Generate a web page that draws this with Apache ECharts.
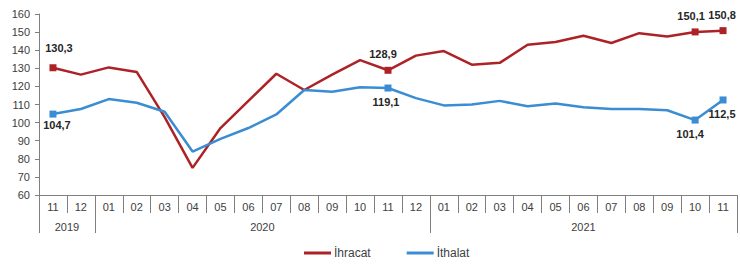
<!DOCTYPE html>
<html>
<head>
<meta charset="utf-8">
<script src="https://cdn.jsdelivr.net/npm/echarts@6/dist/echarts.min.js"></script>
<style>
  html, body { margin: 0; padding: 0; background: #fff; }
  #chart { width: 740px; height: 264px; }
</style>
</head>
<body>
<div id="chart"></div>
<script>
// months along the x axis, grouped by year
var months = ['11', '12',
  '01', '02', '03', '04', '05', '06', '07', '08', '09', '10', '11', '12',
  '01', '02', '03', '04', '05', '06', '07', '08', '09', '10', '11'];
var years = ['2019', '2020', '2021'];
var yearSpans = [2, 12, 11];

var exportsIdx = [130.3, 126.5,
  130.5, 128, 103, 75, 97, 112, 127, 118, 126.5, 134.5, 128.9, 137,
  139.5, 132, 133, 143, 144.5, 148, 144, 149.4, 147.6, 150.1, 150.8];
var importsIdx = [104.7, 107.5,
  113, 111, 106, 84, 91, 97, 104.5, 118, 117, 119.5, 119.1, 113.5,
  109.5, 110, 112, 109, 110.5, 108.5, 107.5, 107.5, 106.8, 101.4, 112.5];

// points that carry a marker and a value label
var marked = [0, 12, 23, 24];
// small nudges for the value labels (by point index)
var redNudge = { 0: [6, -4], 12: [-5, 0], 23: [-4, 0], 24: [-1, 0] };
var blueNudge = { 0: [4, -3], 12: [-2, 0], 23: [-5, 0], 24: [-1, 0] };

var red = '#ad2226';
var blue = '#3a8dd2';
var grey = '#7f7f7f';
var textCol = '#404040';

function fmt(v) { return v.toFixed(1).replace('.', ','); }

function buildSeries(values, pos, nudge) {
  return values.map(function(v, i) {
    if (marked.indexOf(i) < 0) return { value: v, symbol: 'none' };
    return { value: v, symbol: 'rect', label: { show: true, position: pos, offset: nudge[i] || [0, 0] } };
  });
}

// year row: half-month steps so year names sit in the middle of their span
var yearAxisData = [];
var yearBounds = [0];
var yearCenters = {};
var acc = 0;
for (var y = 0; y < years.length; y++) {
  yearCenters[(acc + yearSpans[y] / 2) * 2] = years[y];
  acc += yearSpans[y];
  yearBounds.push(acc * 2);
}
for (var k = 0; k <= months.length * 2; k++) {
  yearAxisData.push(yearCenters[k] || '');
}

var chart = echarts.init(document.getElementById('chart'), null, { renderer: 'svg' });
chart.setOption({
  animation: false,
  textStyle: { fontFamily: 'Liberation Sans, Arial, sans-serif' },
  grid: { left: 39, right: 1, top: 14, bottom: 69 },
  legend: {
    bottom: 0,
    left: 299,
    icon: 'rect',
    itemWidth: 27,
    itemHeight: 3,
    itemGap: 36,
    textStyle: { color: textCol, fontSize: 12, padding: [0, 0, 0, -2] },
    data: ['İhracat', 'İthalat']
  },
  xAxis: [{
    type: 'category',
    data: months,
    boundaryGap: true,
    axisLine: { lineStyle: { color: grey, width: 1 } },
    axisTick: { show: true, interval: 0, length: 18, lineStyle: { color: grey } },
    axisLabel: { interval: 0, color: textCol, fontSize: 11, margin: 6 }
  }, {
    type: 'category',
    data: yearAxisData,
    boundaryGap: false,
    position: 'bottom',
    axisLine: { show: false },
    axisTick: {
      show: true,
      length: 38,
      interval: function(i) { return yearBounds.indexOf(i) >= 0; },
      lineStyle: { color: grey }
    },
    axisLabel: { interval: 0, color: textCol, fontSize: 11, margin: 26 }
  }],
  yAxis: {
    type: 'value',
    min: 60,
    max: 160,
    interval: 10,
    axisLine: { show: true, lineStyle: { color: grey } },
    axisTick: { show: true, length: 4, lineStyle: { color: grey } },
    splitLine: { show: false },
    axisLabel: { color: textCol, fontSize: 11, margin: 9 }
  },
  series: [{
    name: 'İhracat',
    type: 'line',
    data: buildSeries(exportsIdx, 'top', redNudge),
    symbolSize: 7,
    lineStyle: { color: red, width: 2.5 },
    itemStyle: { color: red },
    label: {
      color: '#262626', fontSize: 11, fontWeight: 'bold', distance: 7,
      formatter: function(p) { return fmt(p.value); }
    }
  }, {
    name: 'İthalat',
    type: 'line',
    data: buildSeries(importsIdx, 'bottom', blueNudge),
    symbolSize: 7,
    lineStyle: { color: blue, width: 2.5 },
    itemStyle: { color: blue },
    label: {
      color: '#262626', fontSize: 11, fontWeight: 'bold', distance: 5,
      formatter: function(p) { return fmt(p.value); }
    }
  }]
});
</script>
</body>
</html>
